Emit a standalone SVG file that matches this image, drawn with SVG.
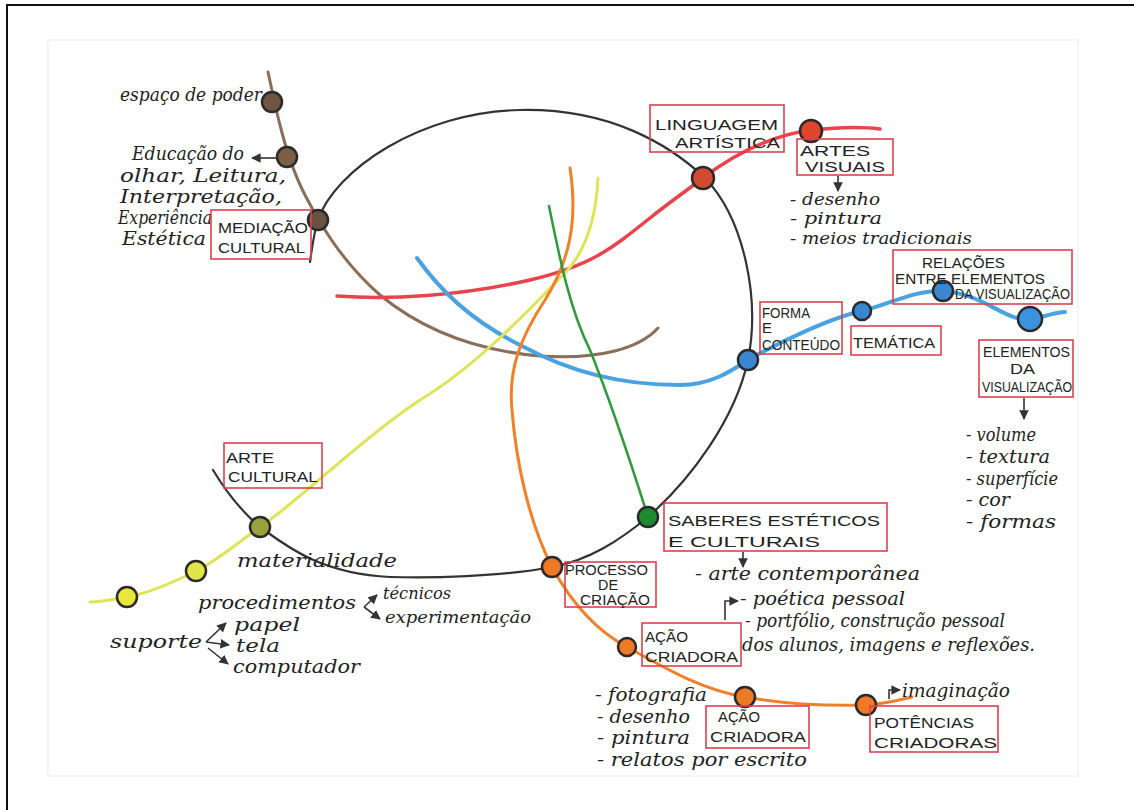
<svg xmlns="http://www.w3.org/2000/svg" width="1134" height="810" viewBox="0 0 1134 810">
<defs>
<marker id="ah" viewBox="0 0 10 10" refX="9" refY="5" markerWidth="6" markerHeight="6" orient="auto-start-reverse"><path d="M0,0 L10,5 L0,10 z" fill="#333"/></marker>
<style>
.box{fill:none;stroke:#d9434f;stroke-width:1.6}
.cap{font-family:"Liberation Sans",Arial,sans-serif;fill:#222;font-size:15px}
.hw{font-family:"DejaVu Serif","Liberation Serif",serif;font-style:italic;fill:#222;font-size:18px}
.sm{font-size:16px}
.ln{fill:none;stroke-linecap:round;stroke-linejoin:round}
.nd{stroke:#2a2a2a;stroke-width:2.5}
.ar{fill:none;stroke:#333;stroke-width:1.6;marker-end:url(#ah)}
</style>
</defs>
<rect x="0" y="0" width="1134" height="810" fill="#fff"/>
<path d="M7,810 L7,5 L1134,5" fill="none" stroke="#111" stroke-width="2"/>
<rect x="48" y="40" width="1030" height="736" fill="none" stroke="#f3f3f3" stroke-width="1.5"/>

<g id="connectors">
<path class="ln" stroke="#333" stroke-width="2.2" d="M310,262 C312,248 314,232 318,220 C335,170 420,112 520,110 C610,108 670,145 705,178 C745,220 760,300 748,360 C735,420 690,480 648,517 C620,540 590,560 552,567 C500,577 430,578 390,577 C320,574 285,545 260,527 C240,510 225,490 213,470"/>
<path class="ln" stroke="#8b6e5a" stroke-width="3" d="M268,72 C272,90 276,110 280,125 C285,145 292,170 305,195 C318,220 340,260 380,295 C420,328 470,350 540,356 C600,360 640,348 658,328"/>
<path class="ln" stroke="#e9434c" stroke-width="3.5" d="M337,296 C390,300 460,296 530,280 C590,266 610,250 650,218 C670,202 690,188 703,178 C740,150 775,135 811,130 C840,127 865,127 880,129"/>
<path class="ln" stroke="#4aa3e0" stroke-width="4" d="M417,258 C440,290 470,320 520,345 C570,372 620,385 680,385 C710,385 730,372 748,360 C780,342 830,318 862,311 C890,304 915,290 943,291 C985,294 1005,322 1030,319 C1045,317 1055,312 1065,312"/>
<path class="ln" stroke="#dde455" stroke-width="3" d="M598,178 C596,220 585,255 560,278 C520,320 470,370 420,400 C360,440 300,500 260,527 C235,545 215,562 196,571 C170,584 145,594 127,597 C110,600 100,602 90,602"/>
<path class="ln" stroke="#f08029" stroke-width="3" d="M570,168 C578,220 570,260 545,300 C520,338 508,370 512,410 C516,460 528,520 552,567 C570,600 595,630 627,647 C660,665 700,690 745,697 C790,705 830,706 866,705 C885,704 900,700 912,697"/>
<path class="ln" stroke="#2e9a3e" stroke-width="2.5" d="M549,206 C560,260 570,310 590,350 C610,400 630,460 648,517"/>
</g>

<g id="node-espaco"><circle class="nd" cx="272" cy="102" r="10" fill="#6f5442"/><text class="hw" x="120" y="101" textLength="142" lengthAdjust="spacingAndGlyphs">espaço de poder</text></g>
<g id="node-educacao"><circle class="nd" cx="287" cy="157" r="10" fill="#7d5e47"/>
<path class="ar" d="M277,158 L252,158"/>
<text class="hw" x="132" y="160" textLength="112" lengthAdjust="spacingAndGlyphs">Educação do</text>
<text class="hw" x="120" y="182" textLength="166" lengthAdjust="spacingAndGlyphs">olhar, Leitura,</text>
<text class="hw" x="120" y="203" textLength="162" lengthAdjust="spacingAndGlyphs">Interpretação,</text>
<text class="hw" x="118" y="224" textLength="94" lengthAdjust="spacingAndGlyphs">Experiência</text>
<text class="hw" x="122" y="245" textLength="84" lengthAdjust="spacingAndGlyphs">Estética</text></g>
<g id="node-mediacao"><circle class="nd" cx="318" cy="220" r="10" fill="#6a5242"/><rect class="box" x="211" y="210" width="100" height="49"/>
<text class="cap" x="218" y="233" textLength="90" lengthAdjust="spacingAndGlyphs">MEDIAÇÃO</text>
<text class="cap" x="218" y="253" textLength="87" lengthAdjust="spacingAndGlyphs">CULTURAL</text></g>

<g id="node-linguagem"><circle class="nd" cx="703" cy="178" r="11" fill="#d24a30"/><rect class="box" x="650" y="105" width="134" height="47"/>
<text class="cap" x="655" y="130" textLength="123" lengthAdjust="spacingAndGlyphs" font-size="16">LINGUAGEM</text>
<text class="cap" x="675" y="148" textLength="105" lengthAdjust="spacingAndGlyphs" font-size="16">ARTÍSTICA</text></g>
<g id="node-artes"><circle class="nd" cx="811" cy="131" r="11" fill="#e0452c"/><rect class="box" x="797" y="139" width="96" height="36"/>
<text class="cap" x="800" y="156" textLength="70" lengthAdjust="spacingAndGlyphs" font-size="14">ARTES</text>
<text class="cap" x="805" y="172" textLength="80" lengthAdjust="spacingAndGlyphs" font-size="14">VISUAIS</text>
<path class="ar" d="M838,176 L838,191"/>
<text class="hw sm" x="790" y="205" textLength="90" lengthAdjust="spacingAndGlyphs">- desenho</text>
<text class="hw sm" x="790" y="224" textLength="92" lengthAdjust="spacingAndGlyphs">- pintura</text>
<text class="hw sm" x="790" y="244" textLength="182" lengthAdjust="spacingAndGlyphs">- meios tradicionais</text></g>

<g id="node-forma"><circle class="nd" cx="748" cy="360" r="10" fill="#3a87cf"/><rect class="box" x="760" y="302" width="82" height="52"/>
<text class="cap" x="762" y="318" font-size="13" textLength="48" lengthAdjust="spacingAndGlyphs">FORMA</text>
<text class="cap" x="762" y="333" font-size="12">E</text>
<text class="cap" x="762" y="350" font-size="13" textLength="78" lengthAdjust="spacingAndGlyphs">CONTEÚDO</text></g>
<g id="node-tematica"><circle class="nd" cx="862" cy="311" r="9" fill="#3a87cf"/><rect class="box" x="851" y="326" width="90" height="29"/>
<text class="cap" x="853" y="348" textLength="82" lengthAdjust="spacingAndGlyphs">TEMÁTICA</text></g>
<g id="node-relacoes"><circle class="nd" cx="943" cy="291" r="10" fill="#3a87cf"/><rect class="box" x="893" y="250" width="179" height="54"/>
<text class="cap" x="922" y="268" font-size="13" textLength="83" lengthAdjust="spacingAndGlyphs">RELAÇÕES</text>
<text class="cap" x="895" y="284" font-size="12" textLength="150" lengthAdjust="spacingAndGlyphs">ENTRE ELEMENTOS</text>
<text class="cap" x="955" y="299" font-size="12" textLength="115" lengthAdjust="spacingAndGlyphs">DA VISUALIZAÇÃO</text></g>
<g id="node-elementos"><circle class="nd" cx="1030" cy="319" r="12" fill="#3d92de"/><rect class="box" x="979" y="340" width="94" height="57"/>
<text class="cap" x="983" y="357" font-size="14" textLength="87" lengthAdjust="spacingAndGlyphs">ELEMENTOS</text>
<text class="cap" x="1010" y="374" font-size="14" textLength="25" lengthAdjust="spacingAndGlyphs">DA</text>
<text class="cap" x="982" y="392" font-size="13" textLength="90" lengthAdjust="spacingAndGlyphs">VISUALIZAÇÃO</text>
<path class="ar" d="M1024,398 L1024,419"/>
<text class="hw" x="966" y="441" textLength="70" lengthAdjust="spacingAndGlyphs">- volume</text>
<text class="hw" x="966" y="463" textLength="84" lengthAdjust="spacingAndGlyphs">- textura</text>
<text class="hw" x="966" y="485" textLength="92" lengthAdjust="spacingAndGlyphs">- superfície</text>
<text class="hw" x="966" y="506" textLength="44" lengthAdjust="spacingAndGlyphs">- cor</text>
<text class="hw" x="966" y="528" textLength="90" lengthAdjust="spacingAndGlyphs">- formas</text></g>

<g id="node-saberes"><circle class="nd" cx="648" cy="517" r="10" fill="#1e8a30"/><rect class="box" x="664" y="503" width="223" height="48"/>
<text class="cap" x="668" y="526" font-size="17" textLength="212" lengthAdjust="spacingAndGlyphs">SABERES ESTÉTICOS</text>
<text class="cap" x="668" y="547" font-size="17" textLength="152" lengthAdjust="spacingAndGlyphs">E CULTURAIS</text>
<path class="ar" d="M743,552 L743,567"/>
<text class="hw" x="695" y="580" textLength="225" lengthAdjust="spacingAndGlyphs">- arte contemporânea</text></g>

<g id="node-processo"><circle class="nd" cx="552" cy="567" r="10" fill="#ee7a26"/><rect class="box" x="565" y="562" width="91" height="45"/>
<text class="cap" x="565" y="575" font-size="11" textLength="83" lengthAdjust="spacingAndGlyphs">PROCESSO</text>
<text class="cap" x="598" y="590" font-size="11" textLength="20" lengthAdjust="spacingAndGlyphs">DE</text>
<text class="cap" x="580" y="605" font-size="11" textLength="70" lengthAdjust="spacingAndGlyphs">CRIAÇÃO</text></g>

<g id="node-acao1"><circle class="nd" cx="627" cy="647" r="9" fill="#ee7a26"/><rect class="box" x="642" y="623" width="99" height="43"/>
<text class="cap" x="645" y="642" font-size="14" textLength="43" lengthAdjust="spacingAndGlyphs">AÇÃO</text>
<text class="cap" x="645" y="662" font-size="14" textLength="93" lengthAdjust="spacingAndGlyphs">CRIADORA</text>
<path class="ar" d="M725,620 L725,601 L738,601"/>
<text class="hw" x="740" y="605" textLength="165" lengthAdjust="spacingAndGlyphs">- poética pessoal</text>
<text class="hw" x="745" y="627" textLength="260" lengthAdjust="spacingAndGlyphs">- portfólio, construção pessoal</text>
<text class="hw" x="742" y="651" textLength="293" lengthAdjust="spacingAndGlyphs">dos alunos, imagens e reflexões.</text></g>

<g id="node-acao2"><circle class="nd" cx="745" cy="697" r="10" fill="#ee7a26"/><rect class="box" x="706" y="706" width="103" height="42"/>
<text class="cap" x="718" y="722" font-size="14" textLength="42" lengthAdjust="spacingAndGlyphs">AÇÃO</text>
<text class="cap" x="710" y="742" font-size="15" textLength="96" lengthAdjust="spacingAndGlyphs">CRIADORA</text>
<text class="hw" x="595" y="701" textLength="112" lengthAdjust="spacingAndGlyphs">- fotografia</text>
<text class="hw" x="597" y="723" textLength="93" lengthAdjust="spacingAndGlyphs">- desenho</text>
<text class="hw" x="597" y="744" textLength="93" lengthAdjust="spacingAndGlyphs">- pintura</text>
<text class="hw" x="597" y="766" textLength="210" lengthAdjust="spacingAndGlyphs">- relatos por escrito</text></g>

<g id="node-potencias"><circle class="nd" cx="866" cy="705" r="10" fill="#ee7a26"/><rect class="box" x="870" y="706" width="128" height="46"/>
<text class="cap" x="874" y="728" font-size="15" textLength="100" lengthAdjust="spacingAndGlyphs">POTÊNCIAS</text>
<text class="cap" x="874" y="748" font-size="15" textLength="123" lengthAdjust="spacingAndGlyphs">CRIADORAS</text>
<path class="ar" d="M889,699 L889,690 L900,690"/>
<text class="hw" x="902" y="697" textLength="108" lengthAdjust="spacingAndGlyphs">imaginação</text></g>

<g id="node-arte-cultural"><circle class="nd" cx="260" cy="527" r="10" fill="#9aa03c"/><rect class="box" x="224" y="443" width="98" height="45"/>
<text class="cap" x="226" y="463" textLength="48" lengthAdjust="spacingAndGlyphs">ARTE</text>
<text class="cap" x="228" y="482" textLength="90" lengthAdjust="spacingAndGlyphs">CULTURAL</text>
<text class="hw" x="237" y="567" textLength="160" lengthAdjust="spacingAndGlyphs">materialidade</text></g>

<g id="node-procedimentos"><circle class="nd" cx="196" cy="571" r="10" fill="#e3e448"/>
<text class="hw" x="198" y="609" textLength="158" lengthAdjust="spacingAndGlyphs">procedimentos</text>
<path class="ar" d="M364,607 L377,595"/>
<path class="ar" d="M364,607 L380,619"/>
<text class="hw sm" x="383" y="599" textLength="68" lengthAdjust="spacingAndGlyphs">técnicos</text>
<text class="hw sm" x="385" y="623" textLength="146" lengthAdjust="spacingAndGlyphs">experimentação</text></g>

<g id="node-suporte"><circle class="nd" cx="127" cy="597" r="10" fill="#e8e83a"/>
<text class="hw" x="110" y="648" textLength="92" lengthAdjust="spacingAndGlyphs">suporte</text>
<path class="ar" d="M206,642 L226,623"/>
<path class="ar" d="M206,642 L229,645"/>
<path class="ar" d="M208,648 L228,664"/>
<text class="hw" x="234" y="631" textLength="66" lengthAdjust="spacingAndGlyphs">papel</text>
<text class="hw" x="236" y="652" textLength="44" lengthAdjust="spacingAndGlyphs">tela</text>
<text class="hw" x="233" y="673" textLength="127" lengthAdjust="spacingAndGlyphs">computador</text></g>
</svg>
